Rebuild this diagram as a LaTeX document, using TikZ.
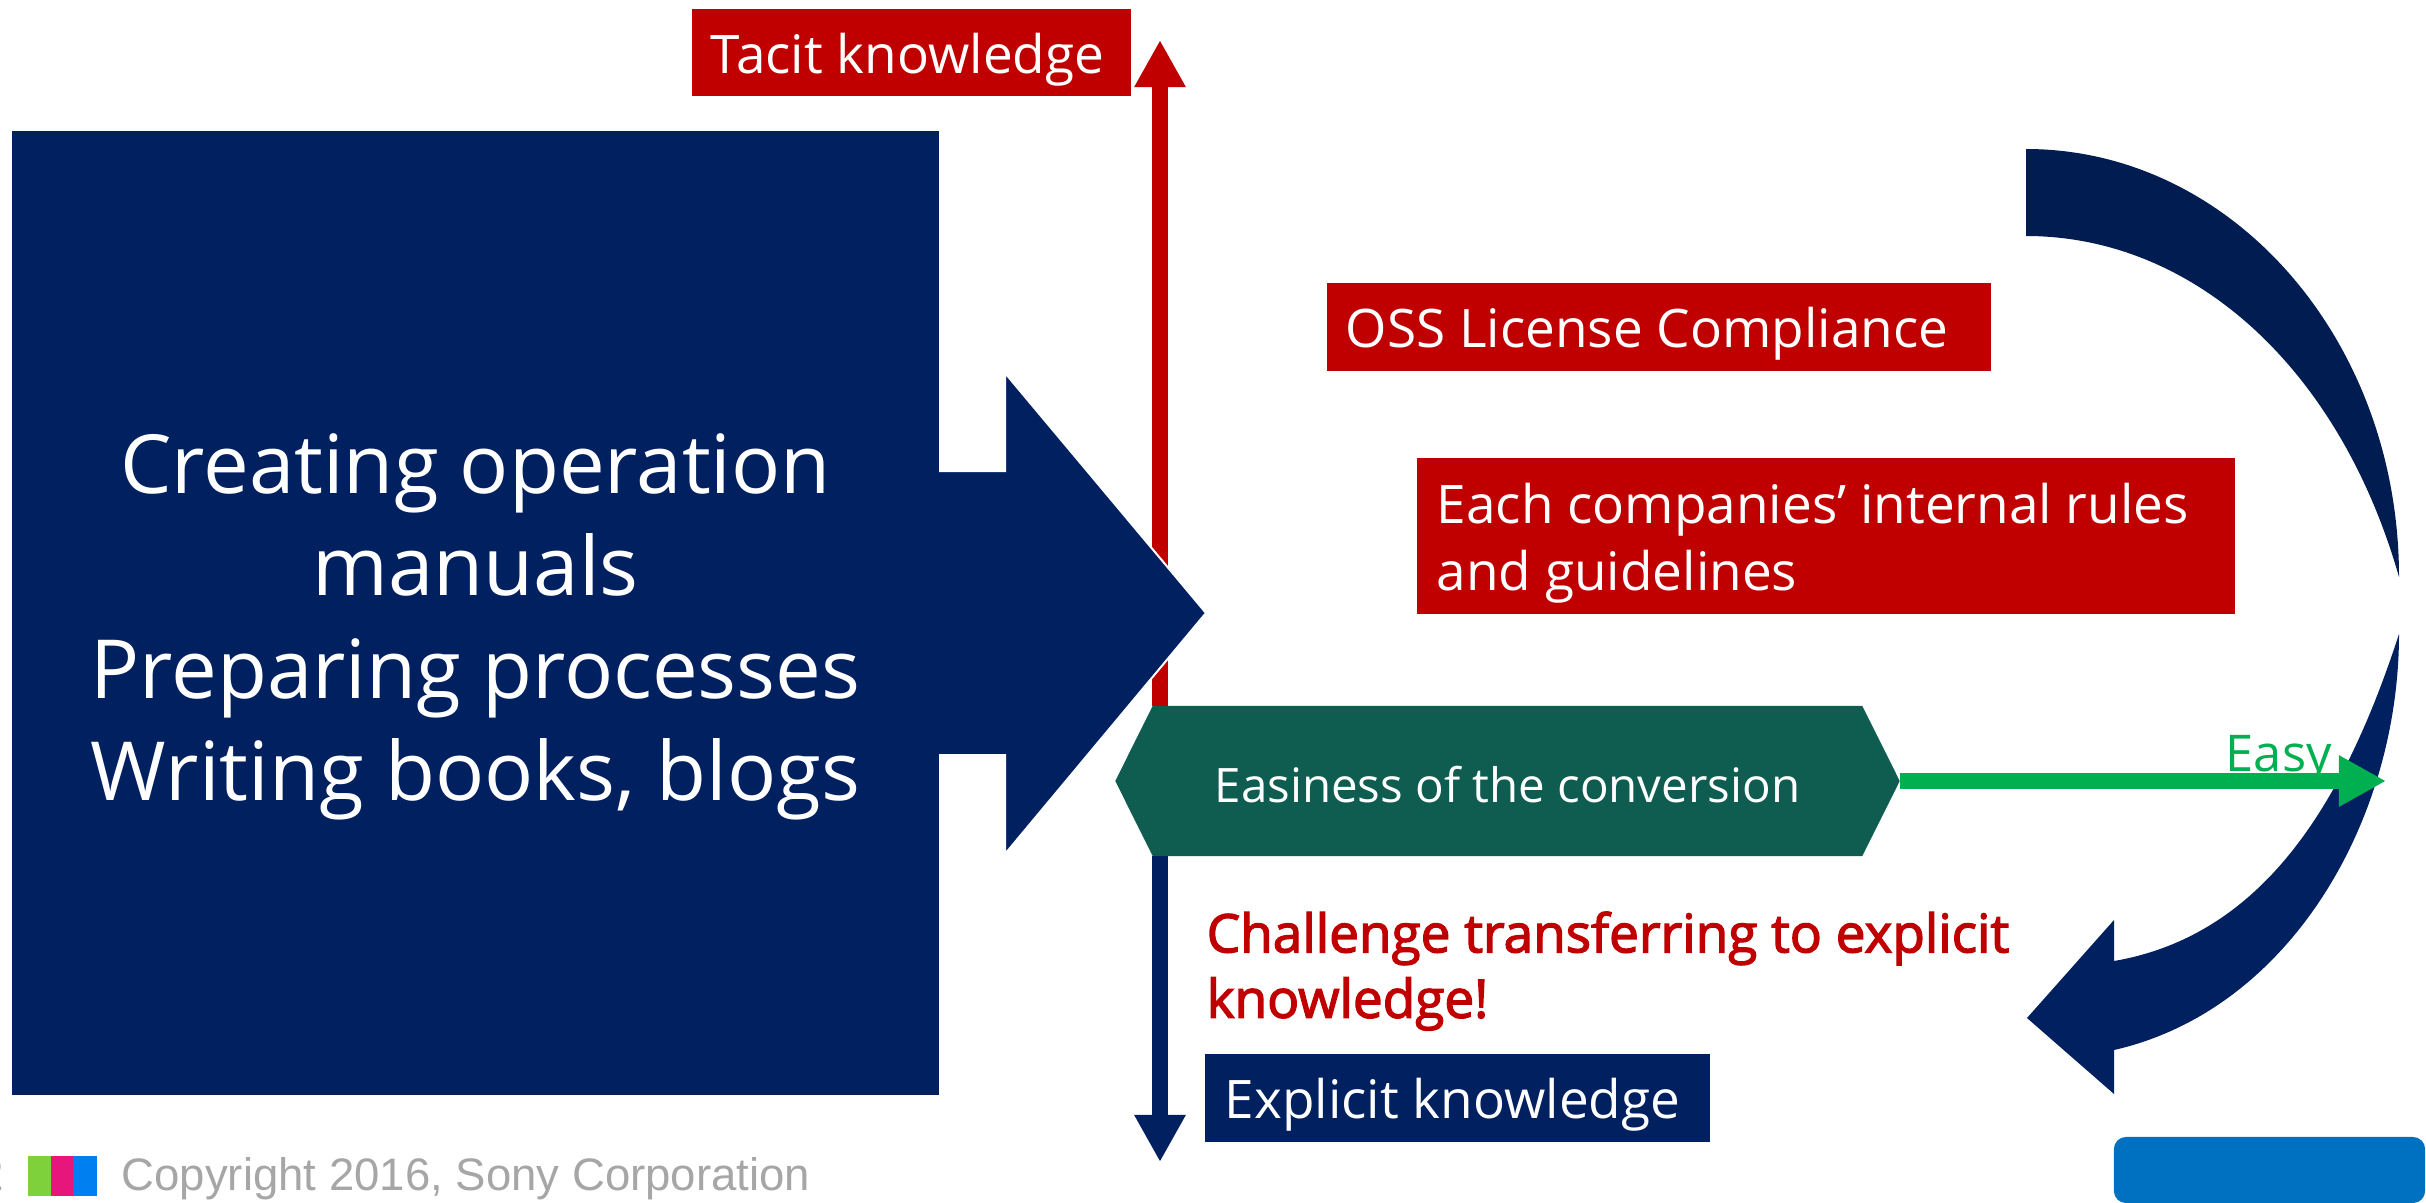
\documentclass[tikz,border=0pt]{standalone}
\usepackage{fontspec}
\setmainfont{Open Sans}
\newfontfamily\semifont{Open Sans}[FakeBold=2.5]
\newfontfamily\footfont{Liberation Sans}
\usetikzlibrary{arrows.meta,shapes.symbols}
\definecolor{navyblue}{HTML}{002060}
\definecolor{darknavy}{HTML}{001C50}
\definecolor{darkred}{HTML}{C00000}
\definecolor{leafgreen}{HTML}{00B050}
\definecolor{tealgreen}{HTML}{0F5C50}
\definecolor{footgrey}{HTML}{A6A6A6}
\definecolor{buttonblue}{HTML}{0070C0}
\begin{document}
\begin{tikzpicture}[x=0.01cm,y=-0.01cm]

              % Definitions
              \tikzstyle{Label} = [rectangle, inner sep=0pt, outer sep=0pt, text=white, font=\fontsize{15.1}{19}\selectfont, align=flush left, execute at begin node={\rule{0pt}{15.5pt}}]
              \tikzstyle{RedLabel} = [Label, fill=darkred]
              \tikzstyle{NavyLabel} = [Label, fill=navyblue]
              \tikzstyle{axis} = [line width=0.16cm,-{Triangle[length=0.47cm,width=0.48cm]}]
              \tikzstyle{Swatch} = [rectangle, inner sep=0pt, outer sep=0pt, minimum width=0.23cm, minimum height=0.40cm]

              \useasboundingbox (0,0) rectangle (2426,1203);

              \coordinate (TacitTip) at (1160,40);
              \coordinate (ExplicitTip) at (1160,1162);
              \coordinate (EasyTip) at (2386,781);

              \node (Easiness) [signal, signal to=west and east, signal pointer angle=127, fill=tealgreen, inner sep=0pt, outer sep=0pt, minimum width=7.84cm, minimum height=1.50cm, text=white, text height=12pt, text depth=0pt, font=\fontsize{13.5}{18}\selectfont] at (1507.5,781) {Easiness of the conversion};

              \draw [axis, draw=darkred] (Easiness.north -| TacitTip) -- (TacitTip);
              \draw [axis, draw=navyblue] (Easiness.south -| ExplicitTip) -- (ExplicitTip);

              % big arrow, then the box over it
              \filldraw [fill=navyblue, draw=white, line width=0.02cm] (930,471) -- (1005,471) -- (1005,373) -- (1206,613) -- (1005,854) -- (1005,755) -- (930,755) -- cycle;
              \node (Manuals) [rectangle, fill=navyblue, inner sep=0pt, outer sep=0pt, minimum width=9.27cm, minimum height=9.64cm] at (475.5,613) {};
              \node (ManualsText) [text=white, align=center, inner sep=0pt, font=\fontsize{23.2}{29.15}\selectfont] at (475.5,627) {Creating operation\\manuals\\Preparing processes\\Writing books, blogs};

              \node (Tacit) [RedLabel, minimum width=4.39cm, minimum height=0.87cm, text width=4.01cm] at (911.5,52.5) {Tacit knowledge};
              \node (OSS) [RedLabel, minimum width=6.64cm, minimum height=0.87cm, text width=6.26cm] at (1659,327) {OSS License Compliance};
              \node (Rules) [RedLabel, minimum width=8.18cm, minimum height=1.56cm, text width=7.78cm] at (1826,536) {Each companies’ internal rules\\and guidelines};
              \node (Explicit) [NavyLabel, minimum width=5.05cm, minimum height=0.88cm, text width=4.65cm] at (1457.5,1098) {Explicit knowledge};

              \node (Challenge) [anchor=north west, inner sep=0pt, text=darkred, font=\semifont\fontsize{15.1}{18.6}\selectfont, align=left] at (1206,911) {Challenge transferring to explicit\\knowledge!};

              % curved arrow
              \fill [darknavy] (2026,149) .. controls (2232,149) and (2399,340) .. (2399,577) .. controls (2340,370) and (2195,236) .. (2026,236) -- cycle;
              \fill [navyblue] (2399,634) .. controls (2399,820) and (2290,1010) .. (2114,1050) -- (2114,1094) -- (2027,1018) -- (2114,920) -- (2114,961) .. controls (2265,935) and (2345,800) .. (2399,634) -- cycle;

              \draw [axis, draw=leafgreen] (Easiness.east) -- (EasyTip);
              \node (Easy) [anchor=base west, inner sep=0pt, text=leafgreen, font=\fontsize{14.4}{18}\selectfont] at (2225,771) {Easy};

              \node (Button) [rectangle, rounded corners=0.12cm, fill=buttonblue, inner sep=0pt, outer sep=0pt, minimum width=3.11cm, minimum height=0.66cm] at (2269.5,1170) {};

              % footer
              \node (Page) [anchor=base east, inner sep=0pt, text=footgrey, font=\footfont\fontsize{13}{15}\selectfont] at (5,1190) {2};
              \node (Green) [Swatch, fill={rgb,255:red,127;green,209;blue,59}] at (39.5,1176) {};
              \node (Pink) [Swatch, fill={rgb,255:red,230;green,22;blue,125}] at (62.5,1176) {};
              \node (Blue) [Swatch, fill={rgb,255:red,0;green,128;blue,240}] at (85,1176) {};
              \node (Copyright) [anchor=base west, inner sep=0pt, text=footgrey, font=\footfont\fontsize{12.95}{15}\selectfont] at (121,1190) {Copyright 2016, Sony Corporation};

            \end{tikzpicture}
\end{document}
